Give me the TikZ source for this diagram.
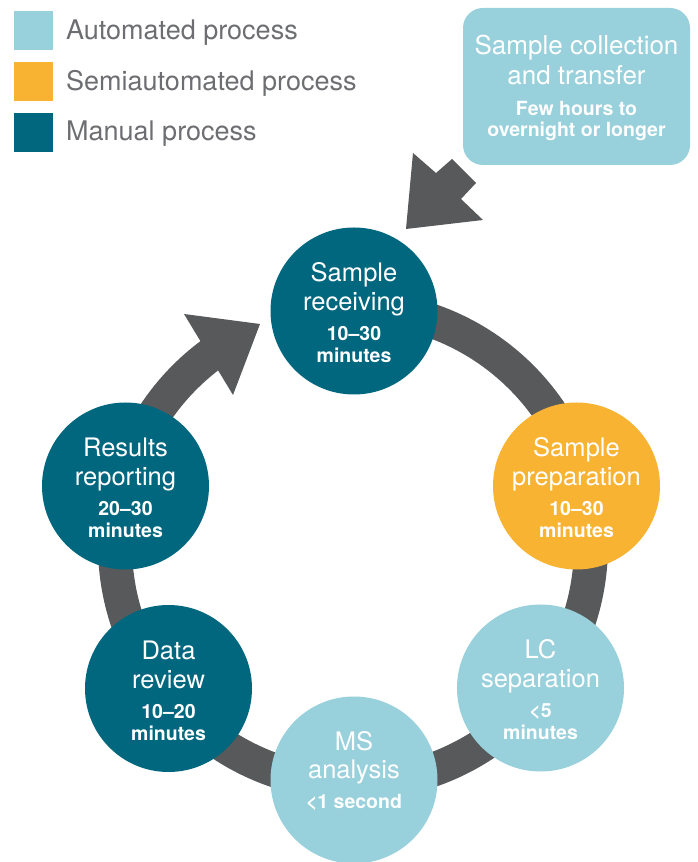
\documentclass[tikz,border=0pt]{standalone}
\usepackage{fontspec}
\setmainfont{TeX Gyre Heros}
\definecolor{lblue}{HTML}{98D0DB}
\definecolor{orng}{HTML}{F8B333}
\definecolor{teal}{HTML}{00677F}
\definecolor{dgray}{HTML}{58595B}
\definecolor{lgtxt}{HTML}{6D6E71}
\tikzset{
  stagecirc/.style={circle, minimum size=167pt, inner sep=0pt, draw=none},
  lighttxt/.style={anchor=base, inner sep=0pt, text=white, font=\fontsize{25.5}{30}\selectfont},
  boldtxt/.style={anchor=base, inner sep=0pt, text=white, font=\fontsize{19.5}{22}\selectfont\bfseries},
  legsq/.style={fill=#1, draw=none, minimum size=39pt, inner sep=0pt},
  legtxt/.style={anchor=base west, inner sep=0pt, text=lgtxt, font=\fontsize{27}{30}\selectfont},
  ringband/.style={draw=dgray, line width=34pt},
}
\begin{document}
\begin{tikzpicture}[x=1pt,y=1pt]
\useasboundingbox (0,0) rectangle (697,862);
% legend
\node[legsq=lblue] (sq1) at (33.5,831.5) {};
\node[legsq=orng] (sq2) at (33.5,780.5) {};
\node[legsq=teal] (sq3) at (33.5,729.5) {};
\node[legtxt] (lt1) at (66,822) {Automated process};
\node[legtxt] (lt2) at (66,771) {Semiautomated process};
\node[legtxt] (lt3) at (66,721.5) {Manual process};
% ring
\coordinate (rc) at (353,316.5);
\draw[ringband] (rc) ++(85:238) arc[start angle=85, end angle=-234, radius=238];
\fill[dgray] (184,548) -- (260,538) -- (233,467) -- cycle;
% incoming arrow
\fill[dgray] (406,633) -- (413,709) -- (436,689) -- (452,703) -- (476,679) -- (461,663) -- (483,642) -- cycle;
% sample collection box
\node[fill=lblue, draw=none, rounded corners=20pt, minimum width=227pt, minimum height=157pt, inner sep=0pt] (box) at (576.5,775.5) {};
\node[lighttxt, font=\fontsize{26}{30}\selectfont] (box-a) at ([yshift=31.5pt]box.center) {Sample collection};
\node[lighttxt, font=\fontsize{26}{30}\selectfont] (box-b) at ([yshift=1.5pt]box.center) {and transfer};
\node[boldtxt] (box-c) at ([yshift=-29.5pt]box.center) {Few hours to};
\node[boldtxt] (box-d) at ([yshift=-50.5pt]box.center) {overnight or longer};
% stages
\node[stagecirc, fill=teal] (sr) at (354,551) {};
\node[lighttxt] (sr-a) at ([yshift=29pt]sr.center) {Sample};
\node[lighttxt] (sr-b) at ([yshift=0pt]sr.center) {receiving};
\node[boldtxt] (sr-c) at ([yshift=-30pt]sr.center) {10–30};
\node[boldtxt] (sr-d) at ([yshift=-52pt]sr.center) {minutes};

\node[stagecirc, fill=orng] (sp) at (576.5,376) {};
\node[lighttxt] (sp-a) at ([yshift=29pt]sp.center) {Sample};
\node[lighttxt] (sp-b) at ([yshift=0pt]sp.center) {preparation};
\node[boldtxt] (sp-c) at ([yshift=-30pt]sp.center) {10–30};
\node[boldtxt] (sp-d) at ([yshift=-52pt]sp.center) {minutes};

\node[stagecirc, fill=lblue] (lc) at (540.5,174) {};
\node[lighttxt] (lc-a) at ([yshift=29pt]lc.center) {LC};
\node[lighttxt] (lc-b) at ([yshift=0pt]lc.center) {separation};
\node[boldtxt] (lc-c) at ([yshift=-30pt]lc.center) {<5};
\node[boldtxt] (lc-d) at ([yshift=-52pt]lc.center) {minutes};

\node[stagecirc, fill=lblue] (ms) at (354,82) {};
\node[lighttxt] (ms-a) at ([yshift=29pt]ms.center) {MS};
\node[lighttxt] (ms-b) at ([yshift=1pt]ms.center) {analysis};
\node[boldtxt] (ms-c) at ([yshift=-29pt]ms.center) {<1 second};

\node[stagecirc, fill=teal] (dr) at (168.5,173.5) {};
\node[lighttxt] (dr-a) at ([yshift=29pt]dr.center) {Data};
\node[lighttxt] (dr-b) at ([yshift=0pt]dr.center) {review};
\node[boldtxt] (dr-c) at ([yshift=-30pt]dr.center) {10–20};
\node[boldtxt] (dr-d) at ([yshift=-52pt]dr.center) {minutes};

\node[stagecirc, fill=teal] (rr) at (125.5,376) {};
\node[lighttxt] (rr-a) at ([yshift=29pt]rr.center) {Results};
\node[lighttxt] (rr-b) at ([yshift=0pt]rr.center) {reporting};
\node[boldtxt] (rr-c) at ([yshift=-30pt]rr.center) {20–30};
\node[boldtxt] (rr-d) at ([yshift=-52pt]rr.center) {minutes};
\end{tikzpicture}
\end{document}
